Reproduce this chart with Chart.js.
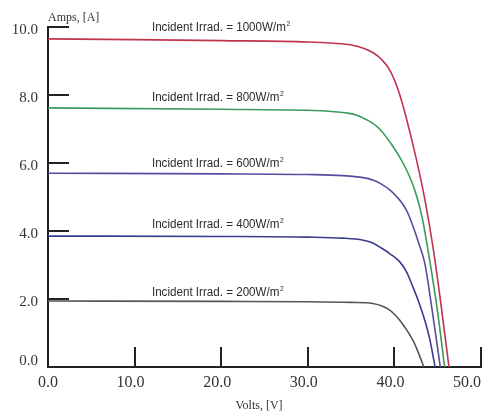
<!DOCTYPE html>
<html>
<head>
<meta charset="utf-8">
<script src="https://cdn.jsdelivr.net/npm/chart.js@4"></script>
<style>
  html, body { margin: 0; padding: 0; background: #fff; }
  #wrap { width: 484px; height: 414px; position: relative; }
</style>
</head>
<body>
<div id="wrap"><canvas id="graph"></canvas></div>
<script>
// I-V curves, one pair of arrays per irradiance
var volts1000 = [0, 10, 20, 30, 33, 35, 36.5, 37.5, 38.5, 39.5, 40.5, 41.5, 42.5, 43.5, 44.5, 45.4, 46.3];
var amps1000  = [9.65, 9.63, 9.6, 9.56, 9.52, 9.47, 9.37, 9.25, 9.05, 8.72, 8.1, 7.2, 6.15, 4.95, 3.45, 1.8, 0];
var volts800 = [0, 20, 30, 32, 34.5, 35.5, 36.4, 37.3, 38.3, 39.8, 41.0, 42.0, 42.6, 43.2, 44.1, 45.0, 45.8];
var amps800  = [7.62, 7.58, 7.55, 7.53, 7.47, 7.42, 7.32, 7.2, 7.0, 6.5, 6.0, 5.45, 5.0, 4.4, 3.1, 1.6, 0];
var volts600 = [0, 20, 30, 34, 36.4, 37.5, 38.5, 39.5, 40.3, 41.0, 41.6, 42.2, 42.8, 43.5, 44.4, 45.3];
var amps600  = [5.7, 5.68, 5.66, 5.63, 5.57, 5.5, 5.38, 5.2, 5.0, 4.78, 4.5, 4.1, 3.65, 3.06, 1.6, 0];
var volts400 = [0, 20, 30, 34, 36.4, 37.5, 38.5, 39.5, 40.6, 41.4, 42.1, 42.8, 43.5, 44.1, 44.7];
var amps400  = [3.85, 3.84, 3.82, 3.79, 3.73, 3.65, 3.5, 3.33, 3.1, 2.8, 2.38, 1.92, 1.38, 0.8, 0];
var volts200 = [0, 20, 30, 35, 37.5, 38.5, 39.3, 40.0, 40.6, 41.2, 41.8, 42.3, 42.8, 43.4];
var amps200  = [1.94, 1.93, 1.92, 1.9, 1.87, 1.8, 1.7, 1.55, 1.38, 1.17, 0.94, 0.7, 0.4, 0];

var irradiances = ['1000', '800', '600', '400', '200'];
var xTicks = [0, 10, 20, 30, 40, 50];
var yTicks = [0, 2, 4, 6, 8, 10];
// where each "Incident Irrad." note sits, in volts / amps
var noteVolt = 12;
var noteAmps = [9.97, 7.91, 5.97, 4.18, 2.18];

function pts(xs, ys){
  return xs.map(function(x, i){ return {x: x, y: ys[i]}; });
}

var colors = ['#c0334d', '#3c9a5c', '#5b4ba0', '#3a3c8e', '#555555'];
var series = [pts(volts1000, amps1000), pts(volts800, amps800), pts(volts600, amps600), pts(volts400, amps400), pts(volts200, amps200)];

var axisBits = {
  id: 'axisBits',
  afterDraw: function(chart){
    var ctx = chart.ctx;
    var xs = chart.scales.x, ys = chart.scales.y;
    var a = chart.chartArea;
    ctx.save();
    ctx.strokeStyle = '#222';
    ctx.lineWidth = 2;
    // inward ticks
    yTicks.forEach(function(v){
      if (v === 0) return;
      var py = Math.round(ys.getPixelForValue(v));
      ctx.beginPath(); ctx.moveTo(a.left, py); ctx.lineTo(a.left + 21, py); ctx.stroke();
    });
    xTicks.forEach(function(v){
      if (v === 0) return;
      var px = Math.round(xs.getPixelForValue(v));
      ctx.beginPath(); ctx.moveTo(px, a.bottom); ctx.lineTo(px, a.bottom - 20); ctx.stroke();
    });
    // tick labels
    ctx.fillStyle = '#333';
    ctx.font = '15px "Liberation Serif", "DejaVu Serif", serif';
    ctx.textAlign = 'right';
    ctx.textBaseline = 'middle';
    yTicks.forEach(function(v){
      var py = ys.getPixelForValue(v);
      ctx.fillText(v.toFixed(1), a.left - 10, v === 0 ? py - 6 : py + 3);
    });
    ctx.font = '16px "Liberation Serif", "DejaVu Serif", serif';
    ctx.textAlign = 'center';
    ctx.textBaseline = 'top';
    xTicks.forEach(function(v){
      var px = xs.getPixelForValue(v);
      var shift = v === 50 ? -14 : (v === 0 ? 0 : -4);
      ctx.fillText(v.toFixed(1), px + shift, a.bottom + 8);
    });
    // axis titles
    ctx.font = '12px "Liberation Serif", "DejaVu Serif", serif';
    ctx.textAlign = 'left';
    ctx.textBaseline = 'alphabetic';
    ctx.fillText('Amps, [A]', a.left, 21);
    ctx.textAlign = 'center';
    ctx.fillText('Volts, [V]', 259, 409);
    // irradiance notes
    ctx.fillStyle = '#2a2a2a';
    ctx.font = '12px "Liberation Sans Narrow", "Liberation Sans", Arial, sans-serif';
    ctx.textAlign = 'left';
    ctx.textBaseline = 'middle';
    var base = 'Incident Irrad. = 1000W/m';
    var sx = 134 / ctx.measureText(base).width;
    irradiances.forEach(function(r, i){
      var px = xs.getPixelForValue(noteVolt);
      var py = ys.getPixelForValue(noteAmps[i]);
      var txt = 'Incident Irrad. = ' + r + 'W/m';
      ctx.save();
      ctx.translate(px, py);
      ctx.scale(sx, 1);
      ctx.fillText(txt, 0, 0);
      var w = ctx.measureText(txt).width;
      ctx.font = '7px "Liberation Sans", Arial, sans-serif';
      ctx.fillText('2', w + 0.5, -4);
      ctx.restore();
      ctx.font = '12px "Liberation Sans Narrow", "Liberation Sans", Arial, sans-serif';
    });
    ctx.restore();
  }
};

var graph = new Chart(document.getElementById('graph'), {
  type: 'scatter',
  data: {
    datasets: series.map(function(d, i){
      return {
        label: irradiances[i],
        data: d,
        showLine: true,
        borderColor: colors[i],
        borderWidth: 1.6,
        pointRadius: 0,
        fill: false,
        cubicInterpolationMode: 'monotone'
      };
    })
  },
  options: {
    responsive: true,
    maintainAspectRatio: false,
    animation: false,
    layout: { padding: { left: 48, right: 3, top: 27, bottom: 47 } },
    plugins: { legend: { display: false }, tooltip: { enabled: false } },
    scales: {
      x: {
        type: 'linear', min: 0, max: 50,
        grid: { display: false, drawTicks: false },
        ticks: { display: false },
        border: { display: true, color: '#222', width: 2 }
      },
      y: {
        type: 'linear', min: 0, max: 10,
        grid: { display: false, drawTicks: false },
        ticks: { display: false },
        border: { display: true, color: '#222', width: 2 }
      }
    }
  },
  plugins: [axisBits]
});
</script>
</body>
</html>
